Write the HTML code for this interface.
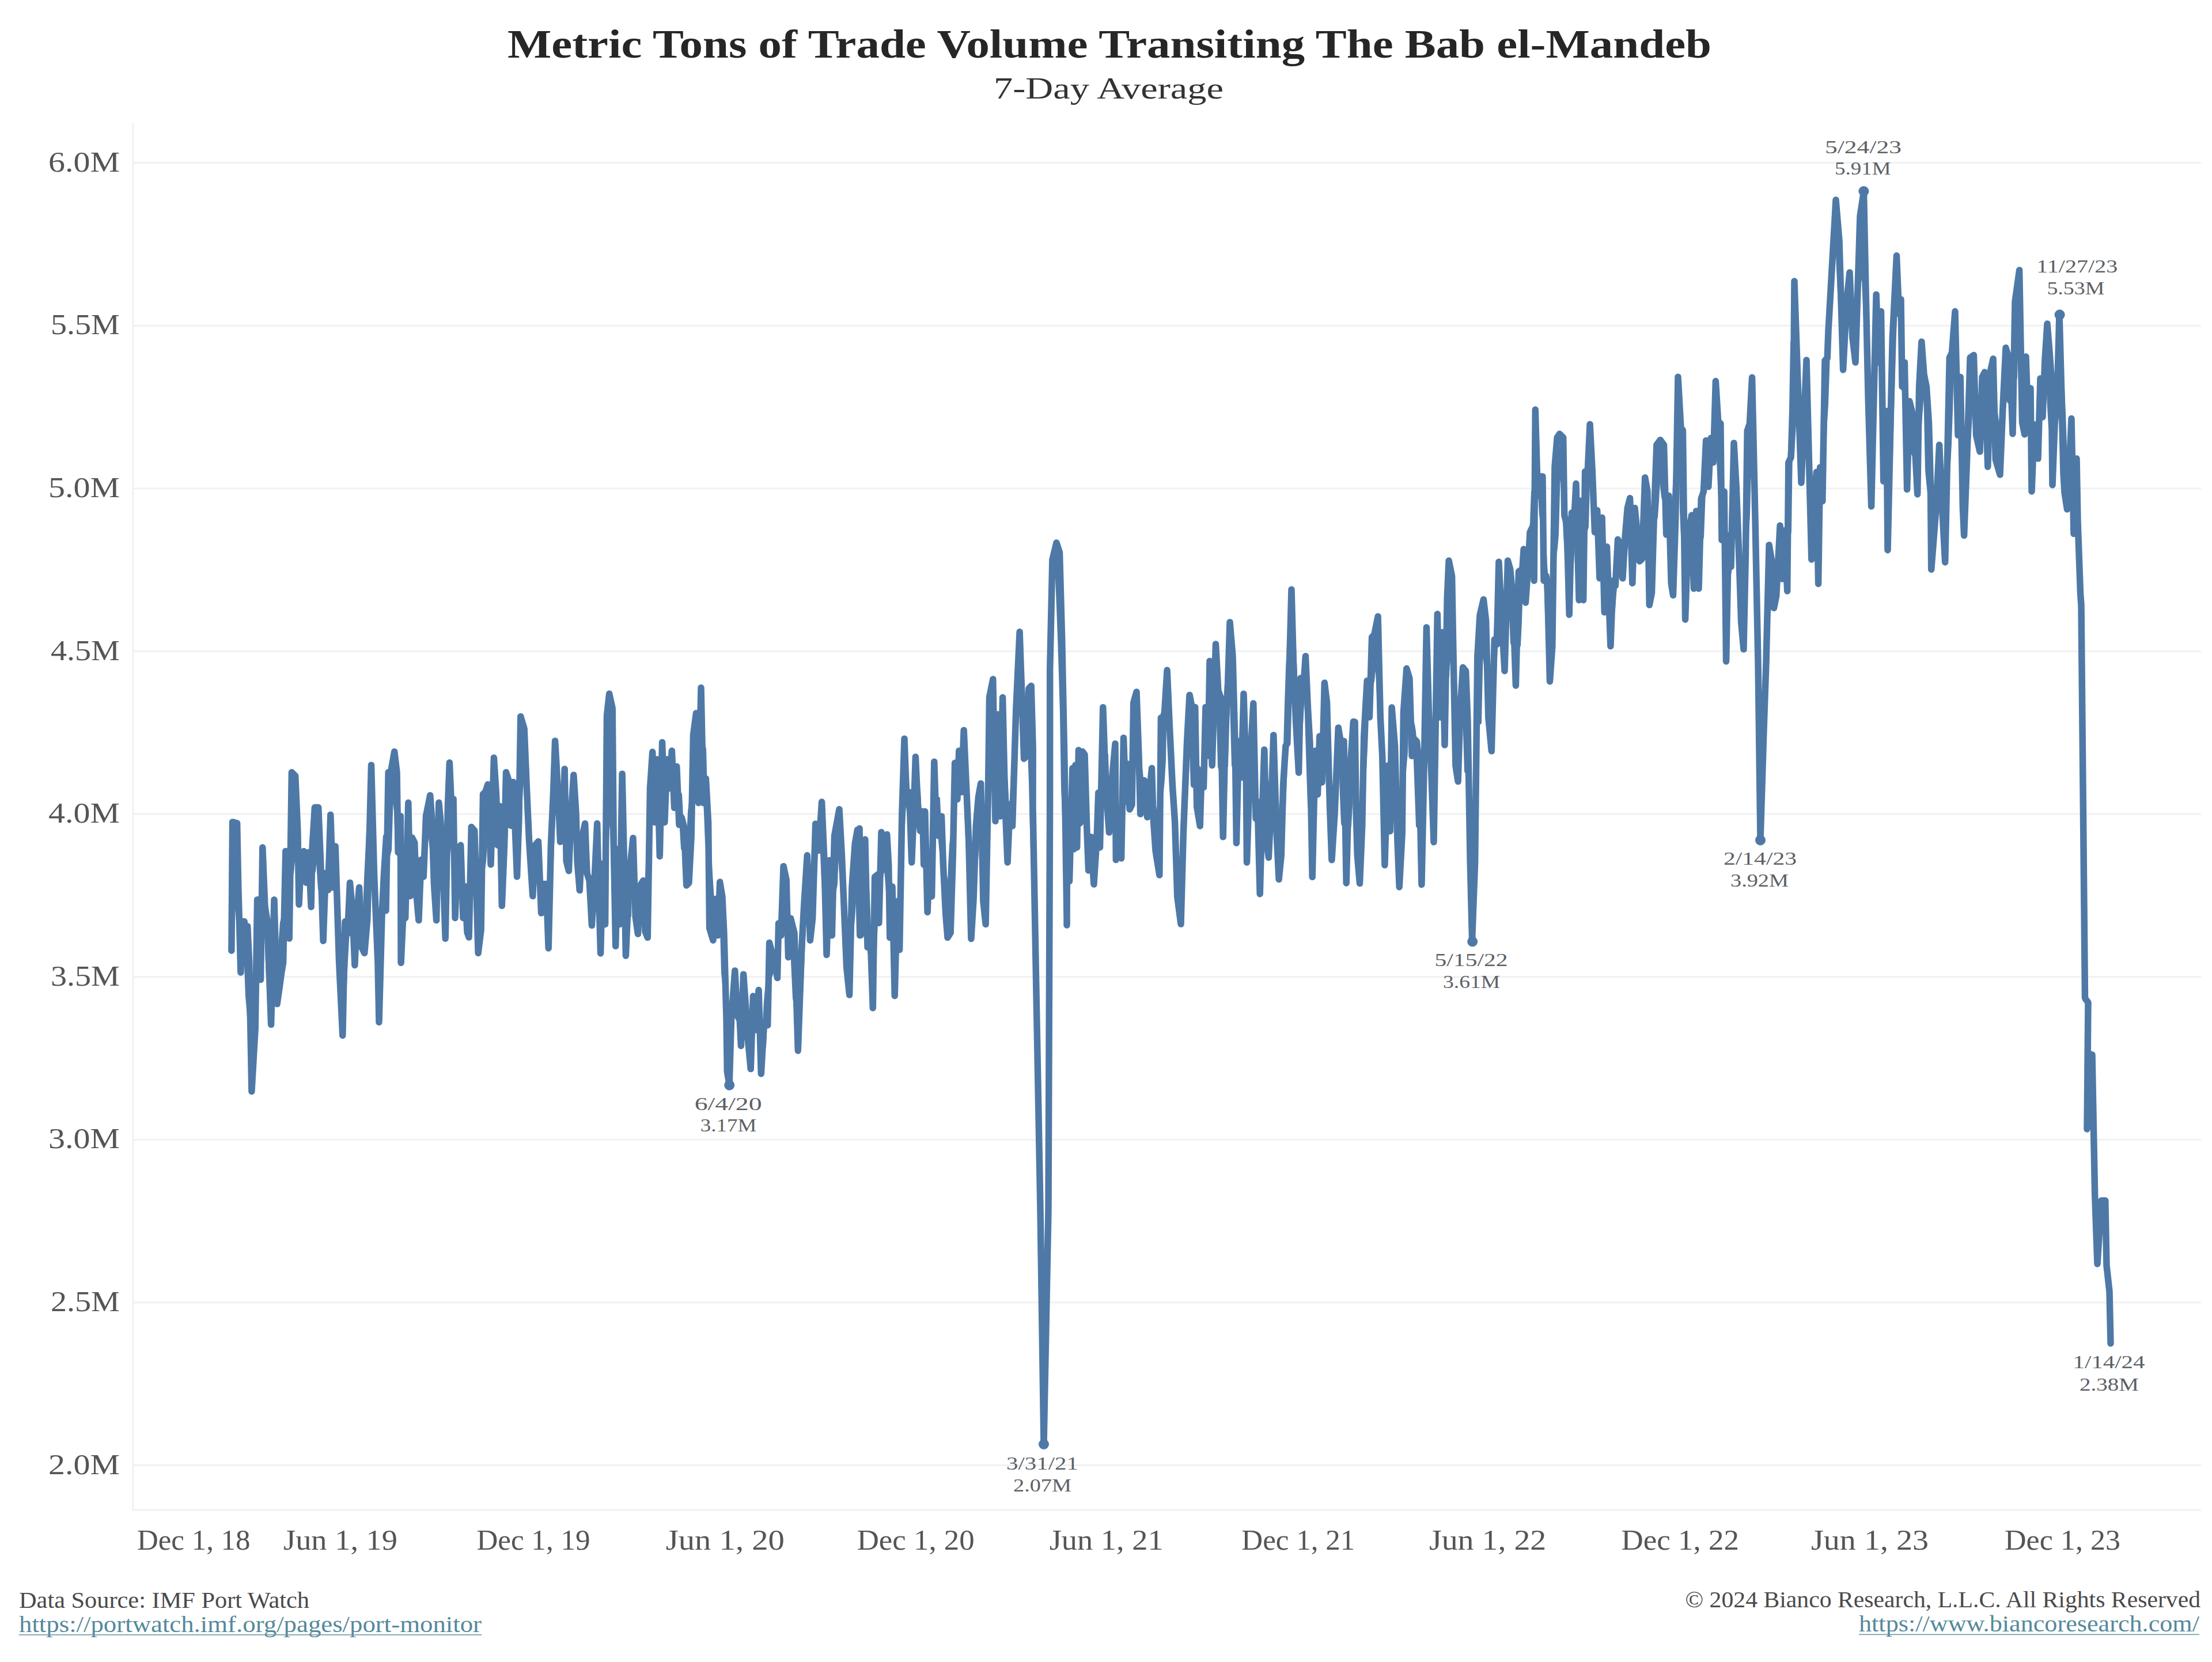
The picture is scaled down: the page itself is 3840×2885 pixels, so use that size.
<!DOCTYPE html>
<html><head><meta charset="utf-8"><title>Metric Tons of Trade Volume Transiting The Bab el-Mandeb</title>
<style>html,body{margin:0;padding:0;background:#fff;}body{width:3840px;height:2885px;overflow:hidden;}svg{display:block;}</style>
</head><body>
<svg width="3840" height="2885" viewBox="0 0 3840 2885" font-family="'Liberation Serif', 'DejaVu Serif', serif"><rect x="231" y="281.2" width="3590" height="3" fill="#f1f1f1"/>
<rect x="231" y="563.8" width="3590" height="3" fill="#f1f1f1"/>
<rect x="231" y="846.4" width="3590" height="3" fill="#f1f1f1"/>
<rect x="231" y="1129.0" width="3590" height="3" fill="#f1f1f1"/>
<rect x="231" y="1411.6" width="3590" height="3" fill="#f1f1f1"/>
<rect x="231" y="1694.2" width="3590" height="3" fill="#f1f1f1"/>
<rect x="231" y="1976.8" width="3590" height="3" fill="#f1f1f1"/>
<rect x="231" y="2259.4" width="3590" height="3" fill="#f1f1f1"/>
<rect x="231" y="2542.0" width="3590" height="3" fill="#f1f1f1"/>
<rect x="229.5" y="213" width="3" height="2410" fill="#f1f1f1"/>
<rect x="231" y="2619.5" width="3590" height="3" fill="#f1f1f1"/>
<text x="84" y="297.7" font-size="50" text-anchor="start" fill="#555" font-weight="normal" textLength="124" lengthAdjust="spacingAndGlyphs">6.0M</text>
<text x="88" y="580.3" font-size="50" text-anchor="start" fill="#555" font-weight="normal" textLength="120" lengthAdjust="spacingAndGlyphs">5.5M</text>
<text x="84" y="862.9" font-size="50" text-anchor="start" fill="#555" font-weight="normal" textLength="124" lengthAdjust="spacingAndGlyphs">5.0M</text>
<text x="88" y="1145.5" font-size="50" text-anchor="start" fill="#555" font-weight="normal" textLength="120" lengthAdjust="spacingAndGlyphs">4.5M</text>
<text x="84" y="1428.1" font-size="50" text-anchor="start" fill="#555" font-weight="normal" textLength="124" lengthAdjust="spacingAndGlyphs">4.0M</text>
<text x="88" y="1710.7" font-size="50" text-anchor="start" fill="#555" font-weight="normal" textLength="120" lengthAdjust="spacingAndGlyphs">3.5M</text>
<text x="84" y="1993.3" font-size="50" text-anchor="start" fill="#555" font-weight="normal" textLength="124" lengthAdjust="spacingAndGlyphs">3.0M</text>
<text x="88" y="2275.9" font-size="50" text-anchor="start" fill="#555" font-weight="normal" textLength="120" lengthAdjust="spacingAndGlyphs">2.5M</text>
<text x="84" y="2558.5" font-size="50" text-anchor="start" fill="#555" font-weight="normal" textLength="124" lengthAdjust="spacingAndGlyphs">2.0M</text>
<text x="238" y="2690" font-size="50" text-anchor="start" fill="#555" font-weight="normal" textLength="196.5" lengthAdjust="spacingAndGlyphs">Dec 1, 18</text>
<text x="492" y="2690" font-size="50" text-anchor="start" fill="#555" font-weight="normal" textLength="198" lengthAdjust="spacingAndGlyphs">Jun 1, 19</text>
<text x="827.5" y="2690" font-size="50" text-anchor="start" fill="#555" font-weight="normal" textLength="196.9" lengthAdjust="spacingAndGlyphs">Dec 1, 19</text>
<text x="1155.7" y="2690" font-size="50" text-anchor="start" fill="#555" font-weight="normal" textLength="206.2" lengthAdjust="spacingAndGlyphs">Jun 1, 20</text>
<text x="1487.7" y="2690" font-size="50" text-anchor="start" fill="#555" font-weight="normal" textLength="204.0" lengthAdjust="spacingAndGlyphs">Dec 1, 20</text>
<text x="1821.7" y="2690" font-size="50" text-anchor="start" fill="#555" font-weight="normal" textLength="198.0" lengthAdjust="spacingAndGlyphs">Jun 1, 21</text>
<text x="2155.3" y="2690" font-size="50" text-anchor="start" fill="#555" font-weight="normal" textLength="197.0" lengthAdjust="spacingAndGlyphs">Dec 1, 21</text>
<text x="2480.9" y="2690" font-size="50" text-anchor="start" fill="#555" font-weight="normal" textLength="203.4" lengthAdjust="spacingAndGlyphs">Jun 1, 22</text>
<text x="2814.5" y="2690" font-size="50" text-anchor="start" fill="#555" font-weight="normal" textLength="204.5" lengthAdjust="spacingAndGlyphs">Dec 1, 22</text>
<text x="3144" y="2690" font-size="50" text-anchor="start" fill="#555" font-weight="normal" textLength="204" lengthAdjust="spacingAndGlyphs">Jun 1, 23</text>
<text x="3480" y="2690" font-size="50" text-anchor="start" fill="#555" font-weight="normal" textLength="201" lengthAdjust="spacingAndGlyphs">Dec 1, 23</text>
<path d="M401.9,1650.2 L403.6,1426.9 L411.6,1429.0 L413.7,1536.4 L417.9,1688.1 L420.0,1599.6 L424.2,1599.6 L426.3,1629.1 L429.7,1608.0 L432.7,1671.2 L436.9,1894.5 L443.2,1785.0 L446.6,1561.7 L449.5,1561.7 L452.5,1700.7 L455.8,1471.1 L460.0,1574.3 L464.2,1599.6 L470.6,1778.6 L476.0,1561.7 L481.1,1742.8 L485.3,1713.4 L488.7,1688.1 L491.6,1671.2 L495.8,1477.5 L500.1,1479.6 L502.2,1629.1 L506.4,1340.6 L512.7,1346.9 L516.9,1443.8 L519.0,1570.1 L523.2,1481.7 L527.4,1477.5 L531.6,1532.2 L535.9,1479.6 L540.1,1574.3 L542.2,1469.0 L546.4,1401.6 L552.7,1401.6 L556.9,1502.7 L561.1,1633.3 L565.3,1515.4 L569.6,1544.9 L573.8,1414.3 L578.0,1540.6 L582.2,1469.0 L588.5,1667.0 L594.8,1797.6 L599.0,1599.6 L603.3,1620.7 L607.5,1532.2 L611.7,1578.6 L615.9,1675.4 L619.3,1595.4 L623.5,1540.6 L628.5,1646.0 L632.7,1654.4 L637.8,1595.4 L644.5,1327.9 L649.6,1519.6 L655.9,1671.2 L658.0,1774.4 L663.1,1587.0 L666.4,1519.6 L670.6,1452.2 L670.0,1580.7 L674.2,1340.6 L678.4,1340.6 L684.7,1304.8 L689.0,1340.6 L691.1,1479.6 L695.3,1416.4 L696.1,1671.3 L701.6,1551.2 L703.7,1593.4 L708.8,1393.3 L712.1,1555.4 L715.5,1454.3 L719.7,1462.8 L722.7,1551.2 L726.9,1597.6 L731.1,1492.3 L735.3,1521.7 L739.5,1416.4 L746.7,1380.6 L750.0,1424.9 L753.4,1534.4 L757.6,1597.6 L761.8,1393.3 L764.8,1424.9 L769.0,1509.1 L773.2,1629.2 L777.4,1399.6 L780.4,1323.8 L783.7,1399.6 L787.1,1387.0 L790.1,1593.4 L794.3,1475.4 L799.7,1467.0 L804.0,1593.4 L806.9,1538.6 L811.1,1618.6 L814.1,1627.1 L818.3,1435.4 L823.7,1441.7 L826.7,1534.4 L830.1,1654.4 L835.1,1614.4 L838.5,1378.5 L842.7,1374.3 L846.9,1361.7 L852.0,1500.7 L857.4,1315.3 L861.7,1382.7 L863.8,1467.0 L868.0,1399.6 L871.3,1572.3 L875.6,1467.0 L878.5,1340.6 L882.7,1353.3 L886.9,1433.3 L891.1,1357.5 L897.5,1521.7 L900.8,1424.9 L903.8,1243.7 L910.1,1264.8 L914.3,1365.9 L918.5,1458.6 L924.8,1555.4 L929.1,1467.0 L934.5,1460.7 L939.6,1584.9 L943.8,1534.4 L948.0,1534.4 L952.2,1646.0 L956.4,1467.0 L960.6,1374.3 L963.6,1285.9 L968.4,1368.5 L972.6,1461.2 L976.8,1452.7 L980.2,1334.8 L983.2,1494.9 L987.4,1511.7 L991.6,1410.6 L995.8,1345.3 L1000.0,1410.6 L1002.1,1494.9 L1006.3,1545.4 L1010.5,1452.7 L1015.6,1429.6 L1019.0,1515.9 L1023.2,1528.6 L1027.4,1606.5 L1031.6,1537.0 L1036.7,1429.6 L1039.2,1537.0 L1042.6,1654.9 L1046.4,1499.1 L1050.6,1604.4 L1053.5,1242.1 L1057.7,1204.2 L1063.2,1229.5 L1065.3,1465.4 L1068.7,1642.3 L1072.9,1473.8 L1075.8,1604.4 L1080.1,1343.2 L1083.0,1473.8 L1086.4,1659.1 L1090.6,1562.3 L1094.8,1494.9 L1099.0,1454.8 L1103.2,1591.7 L1107.4,1621.2 L1111.6,1537.0 L1116.7,1528.6 L1120.1,1617.0 L1124.3,1627.5 L1128.5,1368.5 L1132.7,1305.3 L1136.9,1427.5 L1141.1,1317.9 L1145.3,1486.4 L1149.6,1288.5 L1153.8,1427.5 L1158.0,1317.9 L1162.2,1368.5 L1166.4,1303.2 L1170.6,1402.2 L1174.8,1330.6 L1179.0,1431.7 L1183.3,1419.0 L1187.5,1435.9 L1191.7,1537.0 L1195.9,1532.8 L1200.1,1452.7 L1203.5,1275.8 L1208.5,1237.9 L1212.7,1393.8 L1217.0,1193.7 L1221.2,1393.8 L1225.4,1351.6 L1229.6,1427.5 L1231.6,1611.2 L1237.9,1632.2 L1242.1,1560.6 L1246.3,1623.8 L1249.7,1531.1 L1253.9,1556.4 L1256.9,1619.6 L1261.1,1771.2 L1262.3,1859.7 L1266.1,1882.9 L1269.5,1771.2 L1275.8,1684.9 L1280.0,1762.8 L1284.2,1771.2 L1286.4,1815.5 L1290.6,1691.2 L1294.8,1750.2 L1297.7,1796.5 L1303.2,1855.5 L1307.4,1729.1 L1311.6,1788.1 L1317.1,1718.6 L1321.3,1863.9 L1326.4,1775.4 L1332.7,1779.7 L1335.6,1636.4 L1341.1,1657.5 L1345.3,1674.3 L1349.5,1697.5 L1351.6,1602.7 L1355.9,1623.8 L1360.1,1503.7 L1365.1,1526.9 L1368.5,1661.7 L1372.7,1594.3 L1379.0,1619.6 L1385.3,1823.9 L1391.7,1644.9 L1395.9,1569.0 L1401.3,1484.8 L1406.4,1632.2 L1410.6,1594.3 L1415.7,1430.0 L1421.1,1476.4 L1426.6,1392.1 L1430.8,1489.0 L1435.0,1657.5 L1440.1,1493.2 L1444.3,1623.8 L1448.5,1451.1 L1457.0,1404.8 L1461.2,1480.6 L1469.6,1678.6 L1474.6,1727.0 L1478.9,1539.6 L1484.3,1463.7 L1488.5,1440.6 L1492.8,1623.8 L1492.1,1438.0 L1494.2,1623.4 L1501.8,1457.0 L1506.0,1644.4 L1511.1,1627.6 L1515.3,1749.8 L1518.6,1522.3 L1523.7,1518.1 L1525.8,1602.3 L1530.0,1444.4 L1534.2,1509.7 L1539.7,1448.6 L1542.7,1501.2 L1544.8,1627.6 L1549.0,1539.1 L1553.2,1728.7 L1557.4,1564.4 L1561.6,1648.7 L1565.8,1412.8 L1570.0,1282.2 L1574.2,1395.9 L1578.5,1374.9 L1582.7,1497.0 L1586.0,1417.0 L1589.4,1313.8 L1593.2,1395.9 L1597.4,1442.3 L1601.6,1408.6 L1603.7,1501.2 L1605.8,1408.6 L1610.1,1583.4 L1614.3,1480.2 L1617.6,1556.0 L1621.8,1322.2 L1624.8,1417.0 L1629.0,1450.7 L1634.5,1417.0 L1637.4,1501.2 L1641.6,1585.5 L1645.0,1627.6 L1650.1,1619.2 L1654.3,1484.4 L1657.6,1324.3 L1661.9,1387.5 L1664.8,1303.3 L1669.0,1374.9 L1673.2,1267.4 L1677.4,1362.2 L1681.7,1459.1 L1685.9,1629.7 L1690.1,1560.2 L1694.3,1433.8 L1698.5,1383.3 L1702.7,1360.1 L1706.9,1564.4 L1711.1,1604.4 L1715.4,1374.9 L1717.5,1210.6 L1723.8,1179.0 L1728.0,1425.4 L1732.2,1240.1 L1736.4,1417.0 L1740.6,1210.6 L1744.8,1395.9 L1749.1,1497.0 L1753.3,1395.9 L1757.5,1433.8 L1763.8,1231.6 L1770.1,1096.8 L1777.6,1317.0 L1781.8,1312.8 L1786.0,1194.9 L1790.2,1190.6 L1793.2,1300.2 L1793.0,1400.0 L1806.0,2100.0 L1812.0,2507.0 L1820.0,2100.0 L1822.6,1400.0 L1822.7,1161.2 L1826.9,971.6 L1834.0,942.1 L1839.5,959.0 L1843.7,1110.6 L1847.9,1321.2 L1852.1,1600.1 L1852.0,1606.0 L1852.5,1445.0 L1856.5,1529.7 L1861.8,1333.6 L1864.4,1474.0 L1867.0,1328.0 L1869.7,1471.0 L1872.4,1302.0 L1875.0,1429.0 L1879.0,1304.5 L1883.0,1310.0 L1887.0,1445.0 L1889.6,1511.0 L1893.6,1452.8 L1898.9,1535.0 L1904.0,1458.0 L1906.8,1376.0 L1909.5,1471.0 L1914.8,1227.7 L1918.7,1339.0 L1921.4,1386.6 L1925.4,1445.0 L1929.3,1365.0 L1936.0,1291.0 L1937.3,1492.6 L1941.0,1418.0 L1946.6,1490.0 L1950.5,1280.7 L1954.5,1392.0 L1957.0,1325.7 L1961.0,1405.0 L1965.0,1397.0 L1967.7,1219.7 L1973.0,1201.0 L1977.0,1312.0 L1979.7,1413.0 L1986.3,1354.8 L1991.6,1418.4 L1999.5,1333.6 L2002.0,1418.0 L2006.0,1476.7 L2012.8,1519.0 L2015.4,1246.0 L2017.7,1249.6 L2021.5,1237.0 L2026.1,1163.3 L2030.3,1258.0 L2035.4,1363.4 L2039.6,1426.5 L2043.8,1557.1 L2050.0,1604.0 L2054.3,1447.6 L2060.6,1287.5 L2064.9,1207.5 L2065.1,1206.4 L2068.4,1223.3 L2072.6,1362.3 L2074.7,1227.5 L2077.7,1400.2 L2083.2,1433.9 L2086.1,1337.0 L2089.5,1366.5 L2092.9,1227.5 L2097.1,1311.7 L2100.0,1147.4 L2104.2,1328.6 L2110.5,1117.9 L2114.8,1198.0 L2119.0,1210.6 L2123.2,1452.8 L2127.4,1261.2 L2131.6,1185.3 L2135.0,1080.0 L2140.0,1139.0 L2144.2,1294.9 L2146.4,1463.4 L2150.6,1286.4 L2154.8,1349.6 L2159.0,1204.3 L2163.2,1345.4 L2164.5,1497.1 L2169.5,1341.2 L2175.8,1221.1 L2180.1,1421.2 L2183.0,1391.7 L2187.2,1551.8 L2190.6,1429.7 L2194.8,1301.2 L2199.0,1463.4 L2202.4,1488.6 L2207.4,1379.1 L2210.8,1275.9 L2215.9,1442.3 L2220.1,1526.5 L2224.3,1484.4 L2227.6,1362.3 L2231.9,1294.9 L2234.8,1290.6 L2242.0,1023.2 L2245.3,1147.4 L2249.6,1252.7 L2254.6,1341.2 L2258.0,1176.9 L2262.2,1202.2 L2266.4,1139.0 L2270.6,1231.7 L2274.0,1290.6 L2278.2,1522.3 L2283.3,1303.3 L2287.5,1379.1 L2290.8,1278.0 L2295.0,1358.0 L2299.3,1185.3 L2303.5,1219.0 L2308.5,1400.2 L2311.9,1492.8 L2317.0,1412.8 L2323.3,1263.3 L2328.7,1294.9 L2333.0,1286.4 L2337.2,1532.9 L2340.1,1421.2 L2344.3,1328.6 L2349.4,1252.7 L2352.1,1253.3 L2354.2,1413.4 L2356.3,1485.0 L2360.5,1533.4 L2364.7,1434.4 L2367.7,1278.6 L2373.2,1181.7 L2377.4,1244.9 L2381.6,1105.9 L2385.8,1101.6 L2392.1,1070.1 L2396.3,1244.9 L2399.7,1312.3 L2403.9,1501.8 L2409.0,1329.1 L2413.2,1442.8 L2416.1,1228.0 L2421.6,1295.4 L2425.8,1455.5 L2429.2,1539.7 L2434.2,1447.1 L2436.4,1236.4 L2441.8,1160.6 L2446.9,1177.5 L2451.1,1312.3 L2455.3,1282.8 L2459.5,1287.0 L2463.7,1329.1 L2467.9,1535.5 L2472.2,1329.1 L2476.4,1089.0 L2480.6,1244.9 L2484.8,1341.7 L2489.0,1461.8 L2495.3,1065.8 L2499.5,1244.9 L2503.7,1097.4 L2508.0,1293.3 L2512.2,1038.5 L2515.1,973.2 L2520.6,1000.5 L2522.7,1118.5 L2526.9,1329.1 L2531.1,1356.5 L2535.3,1223.8 L2539.6,1158.5 L2544.6,1164.8 L2548.0,1253.3 L2552.2,1497.6 L2555.6,1630.3 L2560.6,1497.6 L2564.8,1139.6 L2569.0,1067.9 L2575.4,1040.6 L2579.6,1076.4 L2583.8,1244.9 L2589.3,1303.8 L2594.3,1110.1 L2598.5,1118.5 L2601.9,975.3 L2607.0,1076.4 L2612.0,1164.8 L2617.5,973.2 L2621.7,987.9 L2625.9,1034.2 L2631.4,1190.1 L2636.4,992.1 L2642.8,987.9 L2645.1,953.3 L2648.4,1046.0 L2652.6,987.0 L2656.0,923.8 L2660.2,915.4 L2663.2,1008.0 L2665.3,711.1 L2669.5,860.6 L2673.7,826.9 L2677.9,826.9 L2680.0,1008.0 L2684.2,999.6 L2686.3,1016.5 L2690.5,1182.9 L2694.8,1121.8 L2699.0,810.1 L2703.2,759.5 L2707.4,753.2 L2713.7,759.5 L2715.8,894.3 L2720.0,911.2 L2724.2,1067.0 L2728.5,890.1 L2732.7,902.7 L2736.0,839.6 L2741.1,1041.7 L2745.3,869.0 L2748.7,1041.7 L2751.6,818.5 L2755.8,826.9 L2760.1,736.4 L2764.3,818.5 L2768.5,923.8 L2772.7,885.9 L2776.9,1003.8 L2781.1,898.5 L2785.3,1062.8 L2789.5,949.1 L2795.9,1121.8 L2800.1,1008.0 L2804.3,1016.5 L2808.5,936.4 L2812.7,944.9 L2816.9,1003.8 L2821.1,932.2 L2825.3,881.7 L2829.6,864.8 L2833.8,1012.3 L2838.0,881.7 L2842.2,923.8 L2846.4,974.3 L2850.6,970.1 L2855.7,829.0 L2859.9,852.2 L2863.3,1050.2 L2867.5,1029.1 L2871.7,885.9 L2875.9,772.2 L2882.2,763.7 L2888.5,772.2 L2892.7,928.0 L2897.0,860.6 L2901.2,1012.3 L2904.5,1033.3 L2908.7,902.7 L2913.0,654.2 L2918.0,742.7 L2921.4,746.9 L2925.6,1075.4 L2930.6,923.8 L2937.0,894.3 L2936.3,895.4 L2940.5,1021.8 L2944.7,887.0 L2949.0,1021.8 L2953.2,865.9 L2957.4,853.3 L2961.6,764.8 L2965.8,844.9 L2970.0,760.6 L2974.2,802.7 L2978.4,661.6 L2982.7,731.1 L2986.9,735.3 L2989.0,937.5 L2993.2,853.3 L2996.6,1148.1 L3000.8,929.1 L3005.0,983.9 L3010.0,769.0 L3014.2,844.9 L3018.5,954.4 L3022.7,1080.7 L3026.9,1127.1 L3030.3,971.2 L3033.2,748.0 L3037.4,735.3 L3041.6,655.3 L3047.0,900.0 L3052.0,1150.0 L3056.0,1458.0 L3062.0,1266.0 L3066.0,1150.0 L3071.1,946.0 L3075.3,971.2 L3079.5,1055.5 L3083.7,1034.4 L3090.1,912.3 L3094.3,1004.9 L3098.5,920.7 L3102.7,1026.0 L3104.8,802.7 L3109.0,794.3 L3113.2,718.5 L3115.0,488.0 L3127.0,838.0 L3136.0,625.0 L3144.8,971.2 L3149.0,887.0 L3153.3,819.6 L3156.6,1013.4 L3159.6,811.2 L3163.8,870.1 L3168.0,625.8 L3172.2,621.6 L3174.0,574.0 L3187.0,347.0 L3193.0,418.0 L3199.6,642.0 L3206.0,520.0 L3211.0,473.0 L3216.0,587.0 L3221.0,629.0 L3229.0,375.0 L3235.5,333.0 L3239.0,502.7 L3243.2,692.3 L3248.6,879.0 L3252.9,692.3 L3257.1,511.2 L3261.3,629.1 L3265.5,540.6 L3269.7,835.5 L3274.8,713.4 L3277.0,955.0 L3285.3,587.0 L3292.5,443.8 L3296.7,544.9 L3300.0,519.6 L3302.1,671.2 L3306.4,629.1 L3310.6,849.5 L3314.8,696.5 L3319.0,713.4 L3323.2,755.5 L3328.7,858.0 L3331.6,671.2 L3335.8,593.3 L3340.1,650.2 L3344.3,671.2 L3348.5,734.4 L3351.4,839.7 L3352.7,988.5 L3361.1,881.8 L3366.6,772.3 L3371.6,881.8 L3376.7,976.0 L3384.3,620.7 L3388.5,612.3 L3394.0,540.6 L3399.0,755.5 L3403.2,654.4 L3407.4,881.8 L3409.6,929.6 L3414.6,797.6 L3420.1,620.7 L3426.4,616.5 L3430.6,755.5 L3437.0,784.0 L3441.1,654.4 L3445.4,646.0 L3450.8,810.2 L3455.9,641.7 L3460.1,622.8 L3464.3,797.6 L3472.0,824.0 L3477.0,704.9 L3482.0,603.8 L3489.6,629.1 L3494.0,753.0 L3498.0,523.8 L3505.6,469.0 L3510.5,733.0 L3514.7,754.0 L3517.0,619.0 L3521.0,737.0 L3525.0,674.0 L3527.0,853.0 L3531.6,737.0 L3538.0,796.0 L3542.0,657.0 L3546.0,724.0 L3550.0,623.0 L3554.0,562.0 L3558.0,611.0 L3561.0,653.0 L3563.0,842.0 L3567.0,737.0 L3571.0,695.0 L3575.0,545.0 L3578.0,653.0 L3582.0,821.0 L3584.0,855.0 L3588.5,884.0 L3592.0,821.0 L3596.0,726.5 L3600.0,926.5 L3605.0,796.0 L3607.0,905.0 L3611.6,1032.0 L3613.0,1050.0 L3619.5,1732.0 L3621.0,1735.0 L3625.0,1740.0 L3623.0,1960.0 L3629.0,1830.0 L3632.0,1831.0 L3636.7,2075.0 L3641.0,2194.0 L3648.0,2084.0 L3654.8,2084.0 L3657.0,2197.0 L3662.0,2242.0 L3664.0,2332.0" fill="none" stroke="#4e79a7" stroke-width="11.5" stroke-linejoin="round" stroke-linecap="round"/>
<path d="M408,1520.8 L410,1501.7 L412,1577.9 L414,1599.6 L416,1599.6 L418,1601.7 L420,1617.5 L422,1629.1 L424,1628.8 L426,1625.3 L428,1676.3 L430,1728.6 L432,1751.7 L434,1778.8 L436,1795.1 L438,1772.3 L440,1759.7 L442,1776.9 L444,1689.4 L446,1674.3 L448,1645.3 L450,1626.1 L452,1597.0 L454,1581.9 L456,1582.8 L458,1582.8 L460,1570.3 L462,1574.3 L464,1648.9 L466,1697.2 L468,1685.2 L470,1669.1 L472,1662.0 L474,1682.5 L476,1676.2 L478,1663.2 L480,1647.2 L482,1658.3 L484,1688.5 L486,1690.2 L488,1629.9 L490,1601.6 L492,1594.5 L494,1552.1 L496,1578.5 L498,1553.0 L500,1526.0 L502,1510.9 L504,1517.4 L506,1515.4 L508,1494.9 L510,1425.2 L512,1420.7 L514,1475.9 L516,1491.9 L518,1491.7 L520,1493.7 L522,1499.8 L524,1511.8 L526,1517.9 L528,1505.9 L530,1499.8 L532,1507.9 L534,1520.1 L536,1515.9 L538,1511.9 L540,1503.8 L542,1503.8 L544,1512.7 L546,1493.3 L548,1445.3 L550,1440.1 L552,1471.4 L554,1513.8 L556,1542.9 L558,1548.2 L560,1545.1 L562,1553.4 L564,1553.4 L566,1542.9 L568,1522.2 L570,1494.6 L572,1492.5 L574,1493.1 L576,1486.5 L578,1488.5 L580,1505.0 L582,1524.8 L584,1544.0 L586,1588.0 L588,1628.0 L590,1695.6 L592,1688.4 L594,1701.4 L596,1713.4 L598,1709.6 L600,1667.6 L602,1631.6 L604,1604.6 L606,1578.6 L608,1587.6 L610,1596.7 L612,1608.8 L614,1611.4 L616,1612.1 L618,1608.1 L620,1609.5 L622,1606.4 L624,1595.4 L626,1585.2 L628,1594.3 L630,1611.6 L632,1607.5 L634,1580.3 L636,1525.0 L638,1483.8 L640,1442.6 L642,1444.9 L644,1453.0 L646,1451.0 L648,1442.9 L650,1495.4 L652,1578.2 L654,1653.0 L656,1659.1 L658,1663.1 L660,1665.4 L662,1669.4 L664,1568.7 L666,1535.3 L668,1511.4 L670,1498.7 L672,1491.0 L674,1482.8 L676,1475.5 L678,1410.6 L680,1345.6 L682,1324.7 L684,1370.8 L686,1390.0 L688,1410.1 L690,1463.3 L692,1472.6 L694,1488.7 L696,1519.8 L698,1565.3 L700,1559.3 L702,1553.2 L704,1510.3 L706,1515.4 L708,1502.9 L710,1492.8 L712,1481.3 L714,1474.6 L716,1496.8 L718,1517.0 L720,1509.0 L722,1544.9 L724,1536.8 L726,1534.0 L728,1540.9 L730,1530.7 L732,1512.9 L734,1505.2 L736,1494.9 L738,1470.1 L740,1455.9 L742,1435.7 L744,1423.7 L746,1427.7 L748,1454.3 L750,1474.6 L752,1518.2 L754,1503.7 L756,1497.4 L758,1501.9 L760,1495.4 L762,1483.4 L764,1490.2 L766,1485.4 L768,1535.8 L770,1521.8 L772,1512.4 L774,1509.7 L776,1508.3 L778,1469.1 L780,1436.8 L782,1419.4 L784,1417.4 L786,1471.1 L788,1494.3 L790,1503.4 L792,1508.3 L794,1501.3 L796,1533.4 L798,1527.4 L800,1535.2 L802,1549.9 L804,1556.8 L806,1558.9 L808,1573.1 L810,1571.9 L812,1556.6 L814,1556.5 L816,1552.4 L818,1513.1 L820,1511.1 L822,1517.2 L824,1519.3 L826,1556.4 L828,1565.4 L830,1558.2 L832,1542.1 L834,1558.0 L836,1533.8 L838,1507.6 L840,1495.5 L842,1460.2 L844,1420.1 L846,1441.3 L848,1437.2 L850,1420.1 L852,1412.0 L854,1406.0 L856,1412.4 L858,1411.4 L860,1404.0 L862,1403.2 L864,1431.7 L866,1448.2 L868,1461.4 L870,1465.0 L872,1459.0 L874,1465.4 L876,1479.9 L878,1436.9 L880,1411.3 L882,1403.9 L884,1385.7 L886,1388.2 L888,1398.0 L890,1408.1 L892,1423.6 L894,1435.3 L896,1413.6 L898,1409.6 L900,1420.8 L902,1405.7 L904,1368.5 L906,1325.5 L908,1320.8 L910,1311.3 L912,1356.8 L914,1376.0 L916,1394.1 L918,1422.3 L920,1467.6 L922,1490.0 L924,1500.0 L926,1509.2 L928,1513.2 L930,1506.8 L932,1510.8 L934,1508.0 L936,1538.8 L938,1539.6 L940,1539.6 L942,1544.5 L944,1561.8 L946,1580.9 L948,1579.3 L950,1566.9 L952,1558.7 L954,1547.0 L956,1517.3 L958,1470.0 L960,1420.6 L962,1370.4 L964,1362.4 L966,1361.3 L968,1350.3 L970,1371.5 L972,1401.9 L974,1389.2 L976,1410.0 L978,1416.8 L980,1410.0 L982,1418.8 L984,1427.6 L986,1426.8 L988,1439.9 L990,1431.8 L992,1408.6 L994,1413.6 L996,1417.7 L998,1412.6 L1000,1431.7 L1002,1468.8 L1004,1476.9 L1006,1481.9 L1008,1493.0 L1010,1490.0 L1012,1484.4 L1014,1477.8 L1016,1468.3 L1018,1484.8 L1020,1508.9 L1022,1529.6 L1024,1556.0 L1026,1559.5 L1028,1549.9 L1030,1538.8 L1032,1509.6 L1034,1518.7 L1036,1527.9 L1038,1540.0 L1040,1536.2 L1042,1544.4 L1044,1563.9 L1046,1543.6 L1048,1523.4 L1050,1509.2 L1052,1481.3 L1054,1441.3 L1056,1412.2 L1058,1348.2 L1060,1329.3 L1062,1418.0 L1064,1467.4 L1066,1491.5 L1068,1503.7 L1070,1522.8 L1072,1534.9 L1074,1532.0 L1076,1499.9 L1078,1496.9 L1080,1508.0 L1082,1512.0 L1084,1495.9 L1086,1529.9 L1088,1549.2 L1090,1566.5 L1092,1589.6 L1094,1518.3 L1096,1523.4 L1098,1517.3 L1100,1513.2 L1102,1533.4 L1104,1557.0 L1106,1557.3 L1108,1573.4 L1110,1587.1 L1112,1571.1 L1114,1575.1 L1116,1567.9 L1118,1586.1 L1120,1559.3 L1122,1535.2 L1124,1525.1 L1126,1481.0 L1128,1436.8 L1130,1418.1 L1132,1403.4 L1134,1374.6 L1136,1356.9 L1138,1374.1 L1140,1395.0 L1142,1394.2 L1144,1378.8 L1146,1370.4 L1148,1387.2 L1150,1392.7 L1152,1372.7 L1154,1354.5 L1156,1355.6 L1158,1360.8 L1160,1352.4 L1162,1342.2 L1164,1341.8 L1166,1352.3 L1168,1353.4 L1170,1351.0 L1172,1363.1 L1174,1369.7 L1176,1379.1 L1178,1377.1 L1180,1379.1 L1182,1416.5 L1184,1438.9 L1186,1472.3 L1188,1476.3 L1190,1490.5 L1192,1493.6 L1194,1478.5 L1196,1450.7 L1198,1409.5 L1200,1392.4 L1202,1377.3 L1204,1329.5 L1206,1339.1 L1208,1325.9 L1210,1292.2 L1212,1279.7 L1214,1297.7 L1216,1307.2 L1218,1319.7 L1220,1307.7 L1222,1299.7 L1224,1373.8 L1226,1411.1 L1228,1462.8 L1230,1478.9 L1232,1500.1 L1234,1532.4 L1236,1562.7 L1238,1591.2 L1240,1603.4 L1242,1593.4 L1244,1587.5 L1246,1582.3 L1248,1574.1 L1250,1585.0 L1252,1600.4 L1254,1613.5 L1256,1688.3 L1258,1707.5 L1260,1731.8 L1262,1778.3 L1264,1785.3 L1266,1795.6 L1268,1807.4 L1270,1782.4 L1272,1757.2 L1274,1746.8 L1276,1731.1 L1278,1726.8 L1280,1739.8 L1282,1760.8 L1284,1755.3 L1286,1758.1 L1288,1750.7 L1290,1757.8 L1292,1759.3 L1294,1752.8 L1296,1748.1 L1298,1802.6 L1300,1794.5 L1302,1792.9 L1304,1793.9 L1306,1784.0 L1308,1776.6 L1310,1769.2 L1312,1757.3 L1314,1763.6 L1316,1775.9 L1318,1787.2 L1320,1792.4 L1322,1797.6 L1324,1803.6 L1326,1816.6 L1328,1775.5 L1330,1738.3 L1332,1716.1 L1334,1701.0 L1336,1695.9 L1338,1690.9 L1340,1680.7 L1342,1658.6 L1344,1667.3 L1346,1659.6 L1348,1659.4 L1350,1639.0 L1352,1617.8 L1354,1610.3 L1356,1607.0 L1358,1577.8 L1360,1561.8 L1362,1576.5 L1364,1575.2 L1366,1597.3 L1368,1604.5 L1370,1606.6 L1372,1609.4 L1374,1633.1 L1376,1647.6 L1378,1689.7 L1380,1732.8 L1382,1742.6 L1384,1730.6 L1386,1721.7 L1388,1729.3 L1390,1726.3 L1392,1679.1 L1394,1633.6 L1396,1578.3 L1398,1555.5 L1400,1557.0 L1402,1552.2 L1404,1551.2 L1406,1557.5 L1408,1548.8 L1410,1553.9 L1412,1538.2 L1414,1506.2 L1416,1482.1 L1418,1468.3 L1420,1452.2 L1422,1436.5 L1424,1446.2 L1426,1462.3 L1428,1481.9 L1430,1529.1 L1432,1553.2 L1434,1545.3 L1436,1555.3 L1438,1575.3 L1440,1579.6 L1442,1557.3 L1444,1544.4 L1446,1533.4 L1448,1545.5 L1450,1534.4 L1452,1481.2 L1454,1450.5 L1456,1445.4 L1458,1472.4 L1460,1501.6 L1462,1530.6 L1464,1549.6 L1466,1577.6 L1468,1609.6 L1470,1649.5 L1472,1640.4 L1474,1645.5 L1476,1635.3 L1478,1611.1 L1480,1596.0 L1482,1566.8 L1484,1513.1 L1486,1507.3 L1488,1522.8 L1490,1534.9 L1492,1539.0 L1494,1534.9 L1496,1529.2 L1498,1541.7 L1500,1554.3 L1502,1543.4 L1504,1533.6 L1506,1556.8 L1508,1608.2 L1510,1653.1 L1512,1647.1 L1514,1658.4 L1516,1659.4 L1518,1647.6 L1520,1602.3 L1522,1580.3 L1524,1550.3 L1526,1529.2 L1528,1522.3 L1530,1518.1 L1532,1499.9 L1534,1481.8 L1536,1476.6 L1538,1501.5 L1540,1522.3 L1542,1547.4 L1544,1563.4 L1546,1582.4 L1548,1601.5 L1550,1611.6 L1552,1615.5 L1554,1620.2 L1556,1624.5 L1558,1618.5 L1560,1590.3 L1562,1566.4 L1564,1502.5 L1566,1452.1 L1568,1413.8 L1570,1385.0 L1572,1363.4 L1574,1357.3 L1576,1383.1 L1578,1409.9 L1580,1426.0 L1582,1420.0 L1584,1410.9 L1586,1404.9 L1588,1397.3 L1590,1388.7 L1592,1381.2 L1594,1371.2 L1596,1412.0 L1598,1434.5 L1600,1436.8 L1602,1450.9 L1604,1466.8 L1606,1477.1 L1608,1484.9 L1610,1495.8 L1612,1511.0 L1614,1508.1 L1616,1497.1 L1618,1468.3 L1620,1436.1 L1622,1427.0 L1624,1419.0 L1626,1399.8 L1628,1386.7 L1630,1430.9 L1632,1447.8 L1634,1470.1 L1636,1492.2 L1638,1511.3 L1640,1519.3 L1642,1533.3 L1644,1576.4 L1646,1578.2 L1648,1565.9 L1650,1503.5 L1652,1466.4 L1654,1449.4 L1656,1424.4 L1658,1385.5 L1660,1369.3 L1662,1356.7 L1664,1346.3 L1666,1343.4 L1668,1330.8 L1670,1324.8 L1672,1331.9 L1674,1344.5 L1676,1356.4 L1678,1402.6 L1680,1456.1 L1682,1494.2 L1684,1536.1 L1686,1532.1 L1688,1531.7 L1690,1543.4 L1692,1522.1 L1694,1490.0 L1696,1462.9 L1698,1431.8 L1700,1440.0 L1702,1440.2 L1704,1462.3 L1706,1513.1 L1708,1488.3 L1710,1457.4 L1712,1470.5 L1714,1418.2 L1716,1403.1 L1718,1355.8 L1720,1306.7 L1722,1305.0 L1724,1313.2 L1726,1302.9 L1728,1308.6 L1730,1325.2 L1732,1338.6 L1734,1332.5 L1736,1304.4 L1738,1306.8 L1740,1329.1 L1742,1348.2 L1744,1338.2 L1746,1360.7 L1748,1404.0 L1750,1421.9 L1752,1429.8 L1754,1421.0 L1756,1401.9 L1758,1365.8 L1760,1321.7 L1762,1288.7 L1764,1255.7 L1766,1198.4 L1768,1188.9 L1770,1187.4 L1772,1179.3 L1774,1174.9 L1776,1213.9 L1778,1244.9 L1780,1252.8 L1782,1266.8 L1784,1247.8 L1786,1248.1 L1788,1300.5 L1790,1359.3 L1792,1442.0 L1794,1511.0 M1832,990.8 L1834,967.1 L1836,1003.5 L1838,1053.0 L1840,1106.6 L1842,1169.8 L1844,1239.0 L1846,1367.4 L1848,1415.5 L1850,1455.4 L1852,1471.4 L1854,1474.4 L1856,1477.5 L1858,1469.2 L1860,1423.9 L1862,1408.0 L1864,1411.6 L1866,1392.2 L1868,1388.5 L1870,1397.4 L1872,1380.5 L1874,1378.7 L1876,1378.5 L1878,1354.4 L1880,1374.5 L1882,1383.7 L1884,1386.6 L1886,1431.9 L1888,1449.0 L1890,1456.9 L1892,1473.0 L1894,1489.0 L1896,1495.7 L1898,1482.6 L1900,1470.5 L1902,1450.4 L1904,1442.8 L1906,1422.7 L1908,1403.3 L1910,1388.3 L1912,1365.4 L1914,1348.3 L1916,1338.3 L1918,1324.2 L1920,1310.7 L1922,1374.2 L1924,1382.5 L1926,1389.8 L1928,1392.8 L1930,1377.0 L1932,1389.8 L1934,1390.4 L1936,1400.9 L1938,1421.0 L1940,1432.1 L1942,1430.1 L1944,1437.7 L1946,1407.5 L1948,1381.6 L1950,1367.8 L1952,1359.4 L1954,1359.2 L1956,1345.9 L1958,1357.6 L1960,1357.7 L1962,1342.3 L1964,1335.9 L1966,1322.5 L1968,1276.1 L1970,1279.7 L1972,1297.1 L1974,1280.7 L1976,1315.0 L1978,1327.2 L1980,1340.3 L1982,1362.9 L1984,1376.6 L1986,1392.9 L1988,1388.1 L1990,1381.8 L1992,1379.7 L1994,1375.6 L1996,1387.6 L1998,1388.1 L2000,1388.1 L2002,1390.9 L2004,1406.9 L2006,1434.2 L2008,1427.4 L2010,1423.7 L2012,1406.6 L2014,1392.5 L2016,1374.5 L2018,1352.4 L2020,1318.3 L2022,1212.4 L2024,1212.0 L2026,1221.2 L2028,1230.3 L2030,1250.0 L2032,1281.3 L2034,1325.9 L2036,1380.7 L2038,1419.4 L2040,1447.6 L2042,1476.8 L2044,1513.9 L2046,1529.8 L2048,1527.0 L2050,1527.8 L2052,1484.7 L2054,1453.6 L2056,1426.6 L2058,1386.6 L2060,1345.6 L2062,1300.5 L2064,1275.6 L2066,1281.6 L2068,1271.6 L2070,1284.7 L2072,1299.8 L2074,1302.8 L2076,1309.8 L2078,1330.0 L2080,1333.0 L2082,1358.0 L2084,1368.7 L2086,1348.3 L2088,1339.1 L2090,1318.1 L2092,1285.7 L2094,1261.6 L2096,1252.1 L2098,1253.7 L2100,1255.5 L2102,1245.8 L2104,1228.9 L2106,1204.2 L2108,1221.1 L2110,1206.2 L2112,1188.0 L2114,1200.1 L2116,1254.7 L2118,1330.7 L2120,1337.3 L2122,1334.3 L2124,1327.2 L2126,1315.2 L2128,1328.7 L2130,1261.2 L2132,1201.7 L2134,1153.1 L2136,1160.1 L2138,1178.4 L2140,1255.4 L2142,1329.0 L2144,1327.8 L2146,1326.8 L2148,1338.8 L2150,1340.1 L2152,1341.5 L2154,1307.2 L2156,1296.6 L2158,1319.2 L2160,1333.5 L2162,1351.5 L2164,1360.5 L2166,1367.6 L2168,1375.6 L2170,1373.7 L2172,1323.2 L2174,1323.2 L2176,1312.2 L2178,1328.2 L2180,1384.2 L2182,1408.2 L2184,1434.7 L2186,1443.7 L2188,1442.7 L2190,1427.8 L2192,1425.5 L2194,1410.4 L2196,1397.4 L2198,1391.3 L2200,1402.4 L2202,1403.4 L2204,1407.5 L2206,1357.9 L2208,1365.5 L2210,1373.0 L2212,1372.1 L2214,1369.0 L2216,1388.2 L2218,1439.3 L2220,1446.4 L2222,1452.3 L2224,1448.4 L2226,1421.3 L2228,1401.3 L2230,1354.1 L2232,1295.9 L2234,1222.3 L2236,1162.9 L2238,1121.7 L2240,1131.8 L2242,1141.8 L2244,1133.4 L2246,1123.6 L2248,1172.7 L2250,1241.8 L2252,1247.0 L2254,1257.9 L2256,1265.9 L2258,1258.1 L2260,1223.0 L2262,1194.5 L2264,1187.4 L2266,1189.6 L2268,1207.5 L2270,1272.3 L2272,1338.0 L2274,1398.4 L2276,1389.4 L2278,1389.4 L2280,1389.4 L2282,1393.6 L2284,1371.3 L2286,1348.4 L2288,1334.6 L2290,1325.2 L2292,1315.1 L2294,1305.8 L2296,1293.9 L2298,1270.5 L2300,1278.6 L2302,1285.8 L2304,1280.4 L2306,1342.8 L2308,1371.0 L2310,1395.1 L2312,1406.2 L2314,1412.3 L2316,1417.6 L2318,1385.5 L2320,1359.3 L2322,1337.0 L2324,1318.8 L2326,1293.6 L2328,1308.1 L2330,1381.6 L2332,1429.7 L2334,1433.4 L2336,1425.3 L2338,1416.9 L2340,1410.9 L2342,1432.7 L2344,1397.1 L2346,1323.4 L2348,1337.0 L2350,1338.6 L2352,1350.3 L2354,1379.3 L2356,1417.4 L2358,1434.4 L2360,1425.6 L2362,1440.5 L2364,1398.0 L2366,1367.6 L2368,1338.3 L2370,1299.8 L2372,1244.6 L2374,1216.0 L2376,1202.1 L2378,1195.9 L2380,1190.5 L2382,1182.4 L2384,1162.3 L2386,1111.9 L2388,1113.9 L2390,1146.4 L2392,1167.5 L2394,1206.7 L2396,1257.1 L2398,1302.0 L2400,1357.6 L2402,1380.8 L2404,1384.9 L2406,1399.8 L2408,1403.4 L2410,1383.9 L2412,1366.9 L2414,1351.3 L2416,1336.8 L2418,1345.9 L2420,1347.4 L2422,1340.4 L2424,1406.5 L2426,1436.5 L2428,1435.0 L2430,1413.5 L2432,1425.5 L2434,1382.9 L2436,1350.8 L2438,1327.7 L2440,1305.6 L2442,1234.4 L2444,1214.5 L2446,1223.7 L2448,1243.9 L2450,1252.9 L2452,1257.9 L2454,1270.0 L2456,1293.0 L2458,1322.1 L2460,1378.2 L2462,1433.3 L2464,1435.3 L2466,1409.3 L2468,1385.2 L2470,1365.2 L2472,1335.1 L2474,1254.1 L2476,1240.9 L2478,1227.9 L2480,1215.8 L2482,1235.8 L2484,1343.8 L2486,1330.7 L2488,1315.8 L2490,1304.6 L2492,1243.8 L2494,1222.6 L2496,1201.2 L2498,1166.3 L2500,1159.8 L2502,1180.5 L2504,1190.3 L2506,1178.2 L2508,1158.4 L2510,1156.0 L2512,1174.2 L2514,1131.8 L2516,1078.2 L2518,1073.2 L2520,1129.5 L2522,1157.6 L2524,1169.6 L2526,1204.7 L2528,1242.9 L2530,1260.9 L2532,1278.5 L2534,1269.0 L2536,1262.0 L2538,1248.9 L2540,1210.3 L2542,1215.6 L2544,1273.3 L2546,1338.4 M2568,1253.6 L2570,1160.6 L2572,1072.0 L2574,1078.4 L2576,1112.5 L2578,1139.6 L2580,1154.6 L2582,1169.6 L2584,1212.8 L2586,1209.0 L2588,1212.8 L2590,1231.2 L2592,1216.0 L2594,1161.5 L2596,1122.2 L2598,1083.2 L2600,1051.0 L2602,1047.0 L2604,1055.0 L2606,1062.2 L2608,1082.3 L2610,1079.2 L2612,1084.1 L2614,1092.3 L2616,1081.1 L2618,1051.8 L2620,1035.7 L2622,1032.2 L2624,1067.6 L2626,1116.2 L2628,1103.6 L2630,1093.5 L2632,1098.6 L2634,1108.1 L2636,1120.1 L2638,1077.1 L2640,1013.1 L2642,1001.9 L2644,997.6 L2646,997.2 L2648,988.5 L2650,984.4 L2652,991.1 L2654,988.0 L2656,968.2 L2658,934.0 L2660,906.7 L2662,853.5 L2664,850.1 L2666,846.5 L2668,841.0 L2670,829.9 L2672,826.9 L2674,858.9 L2676,893.3 L2678,911.4 L2680,938.6 L2682,980.9 L2684,1005.9 L2686,1061.6 L2688,1115.7 L2690,1079.5 L2692,1044.9 L2694,1048.5 L2696,1003.1 L2698,965.9 L2700,950.8 L2702,927.7 L2704,852.3 L2706,777.7 L2708,782.7 L2710,820.9 L2712,827.9 L2714,848.0 L2716,887.3 L2718,927.4 L2720,961.1 L2722,966.2 L2724,979.3 L2726,978.3 L2728,978.6 L2730,944.4 L2732,912.2 L2734,911.6 L2736,942.7 L2738,934.5 L2740,927.3 L2742,951.4 L2744,955.7 L2746,959.5 L2748,946.3 L2750,929.1 L2752,921.1 L2754,914.0 L2756,839.6 L2758,798.5 L2760,797.6 L2762,806.8 L2764,808.5 L2766,841.8 L2768,887.9 L2770,903.7 L2772,918.8 L2774,929.9 L2776,938.2 L2778,954.2 L2780,967.9 L2782,980.7 L2784,976.1 L2786,985.4 L2788,1003.0 L2790,1024.7 L2792,1042.5 L2794,1032.9 L2796,1045.0 L2798,1054.8 L2800,1059.2 L2802,1031.4 L2804,1012.1 L2806,988.5 L2808,968.4 L2810,974.5 L2812,975.3 L2814,963.2 L2816,963.2 L2818,959.0 L2820,957.9 L2822,949.6 L2824,912.0 L2826,920.7 L2828,929.5 L2830,939.7 L2832,934.7 L2834,932.7 L2836,929.9 L2838,943.8 L2840,944.0 L2842,927.9 L2844,919.8 L2846,935.9 L2848,927.8 L2850,918.7 L2852,901.6 L2854,887.5 L2856,916.2 L2858,919.7 L2860,912.2 L2862,966.2 L2864,961.4 L2866,949.3 L2868,953.3 L2870,918.2 L2872,904.0 L2874,898.0 L2876,869.6 L2878,833.1 L2880,802.6 L2882,777.2 L2884,808.6 L2886,845.0 L2888,862.2 L2890,869.3 L2892,879.4 L2894,892.3 L2896,898.3 L2898,915.2 L2900,954.6 L2902,945.5 L2904,924.1 L2906,891.7 L2908,838.6 L2910,812.5 L2912,791.5 L2914,759.4 L2916,767.7 L2918,783.9 L2920,886.1 L2922,933.2 L2924,949.7 L2926,951.7 L2928,949.7 L2930,973.8 L2932,971.6 L2934,964.2 L2936,957.6 L2938,946.4 L2940,941.4 L2942,953.6 L2944,965.4 L2946,959.4 L2948,947.3 L2950,935.3 L2952,940.1 L2954,931.7 L2956,879.1 L2958,826.0 L2960,817.1 L2962,810.8 L2964,804.7 L2966,794.9 L2968,792.8 L2970,788.7 L2972,772.7 L2974,761.5 L2976,730.6 L2978,723.5 L2980,722.1 L2982,760.4 L2984,797.4 L2986,845.4 L2988,883.4 L2990,913.5 L2992,931.5 L2994,950.4 L2996,991.5 L2998,995.4 L3000,983.9 L3002,993.4 L3004,950.5 L3006,922.6 L3008,859.4 L3010,866.3 L3012,873.3 L3014,867.3 L3016,905.7 L3018,947.3 L3020,978.5 L3022,1036.6 L3024,1021.2 L3026,997.0 L3028,982.4 L3030,953.1 L3032,926.0 L3034,893.8 L3036,810.3 L3038,758.0 L3040,743.7 L3042,784.7 L3044,837.8 M3070,1063.0 L3072,1029.4 L3074,1016.7 L3076,999.3 L3078,1015.4 L3080,1009.9 L3082,1003.3 L3084,998.4 L3086,966.7 L3088,972.7 L3090,970.5 L3092,958.6 L3094,953.7 L3096,966.7 L3098,954.8 L3100,953.6 L3102,946.8 L3104,933.5 L3106,921.4 L3108,777.9 L3110,710.5 L3112,595.1 L3114,608.3 L3116,622.3 L3118,628.1 L3120,634.3 L3122,686.0 L3124,740.0 L3126,744.0 L3128,746.8 L3130,745.8 L3132,722.3 L3134,727.3 L3136,735.3 L3138,741.5 L3140,784.1 L3142,828.1 L3144,865.2 L3146,877.0 L3148,887.1 L3150,920.5 L3152,914.5 L3154,897.8 L3156,886.6 L3158,873.2 L3160,861.2 L3162,849.2 L3164,829.2 L3166,784.0 L3168,734.0 L3170,701.9 L3172,643.8 L3174,567.0 L3176,519.8 L3178,501.7 L3180,472.6 L3182,440.4 L3184,410.3 L3186,399.7 L3188,407.9 L3190,416.0 L3192,467.0 L3194,508.0 L3196,539.0 L3198,554.0 L3200,553.0 L3202,566.0 L3204,578.0 L3206,546.0 L3208,531.5 L3210,530.0 L3212,524.5 L3214,533.0 L3216,569.0 L3218,558.0 L3220,553.0 L3222,534.0 L3224,512.0 L3226,498.0 L3228,483.0 L3230,413.0 L3232,417.9 L3234,424.5 L3236,487.6 L3238,530.0 L3240,570.3 L3242,613.6 L3244,696.3 L3246,736.5 L3248,738.5 L3250,739.5 L3252,729.4 L3254,667.1 L3256,623.1 L3258,601.0 L3260,586.8 L3262,593.4 L3264,619.1 L3266,652.0 L3268,713.3 L3270,757.3 L3272,778.6 L3274,803.7 L3276,810.0 L3278,789.9 L3280,783.4 L3282,790.4 L3284,715.0 L3286,649.0 L3288,580.9 L3290,530.7 L3292,512.4 L3294,519.6 L3296,530.4 L3298,540.7 L3300,577.2 L3302,637.1 L3304,661.1 L3306,683.2 L3308,725.0 L3310,745.3 L3312,748.8 L3314,755.1 L3316,777.0 L3318,754.2 L3320,745.4 L3322,787.6 L3324,783.6 L3326,769.5 L3328,764.6 L3330,761.6 L3332,738.5 L3334,710.4 L3336,680.3 L3338,644.7 L3340,636.0 L3342,666.0 L3344,717.1 L3346,815.4 L3348,837.7 L3350,855.8 L3352,875.9 L3354,893.9 L3356,894.0 L3358,902.0 L3360,874.7 L3362,840.3 L3364,837.2 L3366,840.3 L3368,843.3 L3370,846.4 L3372,890.8 L3374,877.6 L3376,863.6 L3378,851.5 L3380,830.5 L3382,806.4 L3384,770.2 L3386,712.0 L3388,636.7 L3390,608.2 L3392,614.4 L3394,635.0 L3396,661.8 L3398,678.6 L3400,700.8 L3402,719.3 L3404,743.0 L3406,785.2 L3408,811.4 L3410,807.4 L3412,815.6 L3414,810.6 L3416,780.5 L3418,754.4 L3420,718.2 L3422,679.0 L3424,676.9 L3426,670.9 L3428,693.0 L3430,699.1 L3432,726.3 L3434,715.2 L3436,730.3 L3438,729.3 L3440,698.9 L3442,710.1 L3444,723.2 L3446,726.1 L3448,731.1 L3450,724.1 L3452,724.0 L3454,726.0 L3456,713.6 L3458,713.2 L3460,697.9 L3462,694.1 L3464,715.2 L3466,732.3 L3468,765.4 L3470,773.5 L3472,755.4 L3474,732.2 L3476,718.0 L3478,710.0 L3480,693.8 L3482,666.5 L3484,644.8 L3486,648.9 L3488,696.4 L3490,673.2 L3492,659.0 L3494,657.0 L3496,655.0 L3498,655.5 L3500,587.1 L3502,571.5 L3504,564.0 L3506,583.0 L3508,603.0 L3510,643.2 L3512,647.2 L3514,671.0 L3516,694.3 L3518,692.6 L3520,709.7 L3522,712.6 L3524,732.6 L3526,747.1 L3528,759.9 L3530,768.5 L3532,775.8 L3534,769.0 L3536,751.2 L3538,737.3 L3540,717.4 L3542,705.7 L3544,695.6 L3546,683.4 L3548,667.2 L3550,649.3 L3552,623.0 L3554,619.0 L3556,660.0 L3558,706.3 L3560,741.5 L3562,743.3 L3564,743.5 L3566,731.4 L3568,719.4 L3570,657.0 L3572,644.0 L3574,652.0 L3576,661.0 L3578,662.0 L3580,672.0 L3582,718.0 L3584,772.0 L3586,815.0 L3588,823.0 L3590,801.9 L3592,808.7 L3594,824.8 L3596,833.2 L3598,823.0 L3600,834.4 L3602,851.4 L3604,872.5" fill="none" stroke="#4e79a7" stroke-width="8" stroke-linejoin="round" stroke-linecap="round"/>
<circle cx="1266.2" cy="1883.7" r="9" fill="#4e79a7"/>
<text x="1205.7" y="1926.7" font-size="32" text-anchor="start" fill="#5b6166" font-weight="normal" textLength="116.9" lengthAdjust="spacingAndGlyphs">6/4/20</text>
<text x="1215.8" y="1964.2" font-size="32" text-anchor="start" fill="#5b6166" font-weight="normal" textLength="97.5" lengthAdjust="spacingAndGlyphs">3.17M</text>
<circle cx="1812" cy="2507" r="9" fill="#4e79a7"/>
<text x="1747" y="2551" font-size="32" text-anchor="start" fill="#5b6166" font-weight="normal" textLength="125" lengthAdjust="spacingAndGlyphs">3/31/21</text>
<text x="1759" y="2588.5" font-size="32" text-anchor="start" fill="#5b6166" font-weight="normal" textLength="101" lengthAdjust="spacingAndGlyphs">2.07M</text>
<circle cx="2556.2" cy="1634.5" r="9" fill="#4e79a7"/>
<text x="2490.6" y="1677" font-size="32" text-anchor="start" fill="#5b6166" font-weight="normal" textLength="127.0" lengthAdjust="spacingAndGlyphs">5/15/22</text>
<text x="2505" y="1714.6" font-size="32" text-anchor="start" fill="#5b6166" font-weight="normal" textLength="99" lengthAdjust="spacingAndGlyphs">3.61M</text>
<circle cx="3056" cy="1458.4" r="9" fill="#4e79a7"/>
<text x="2992" y="1501" font-size="32" text-anchor="start" fill="#5b6166" font-weight="normal" textLength="127" lengthAdjust="spacingAndGlyphs">2/14/23</text>
<text x="3004" y="1539" font-size="32" text-anchor="start" fill="#5b6166" font-weight="normal" textLength="101" lengthAdjust="spacingAndGlyphs">3.92M</text>
<circle cx="3235.4" cy="332" r="9" fill="#4e79a7"/>
<text x="3168" y="265.5" font-size="32" text-anchor="start" fill="#5b6166" font-weight="normal" textLength="133" lengthAdjust="spacingAndGlyphs">5/24/23</text>
<text x="3185" y="303" font-size="32" text-anchor="start" fill="#5b6166" font-weight="normal" textLength="97.5" lengthAdjust="spacingAndGlyphs">5.91M</text>
<circle cx="3575.6" cy="546.3" r="9" fill="#4e79a7"/>
<text x="3535.3" y="472.5" font-size="32" text-anchor="start" fill="#5b6166" font-weight="normal" textLength="140.9" lengthAdjust="spacingAndGlyphs">11/27/23</text>
<text x="3553.4" y="510.9" font-size="32" text-anchor="start" fill="#5b6166" font-weight="normal" textLength="100.0" lengthAdjust="spacingAndGlyphs">5.53M</text>
<text x="3598.6" y="2375" font-size="32" text-anchor="start" fill="#5b6166" font-weight="normal" textLength="124.9" lengthAdjust="spacingAndGlyphs">1/14/24</text>
<text x="3610" y="2413.7" font-size="32" text-anchor="start" fill="#5b6166" font-weight="normal" textLength="103" lengthAdjust="spacingAndGlyphs">2.38M</text>
<text x="881" y="100" font-size="70" text-anchor="start" fill="#262626" font-weight="bold" textLength="2090" lengthAdjust="spacingAndGlyphs">Metric Tons of Trade Volume Transiting The Bab el-Mandeb</text>
<text x="1725" y="171" font-size="53" text-anchor="start" fill="#333" font-weight="normal" textLength="399" lengthAdjust="spacingAndGlyphs">7-Day Average</text>
<text x="33" y="2791" font-size="41" text-anchor="start" fill="#4a4a4a" font-weight="normal" textLength="504" lengthAdjust="spacingAndGlyphs">Data Source: IMF Port Watch</text>
<text x="33" y="2832.5" font-size="41" text-anchor="start" fill="#56899a" font-weight="normal" textLength="803" lengthAdjust="spacingAndGlyphs">https://portwatch.imf.org/pages/port-monitor</text>
<rect x="33" y="2837" width="803" height="1.6" fill="#6a9aa6"/>
<text x="2925.5" y="2790" font-size="41" text-anchor="start" fill="#4a4a4a" font-weight="normal" textLength="894.5" lengthAdjust="spacingAndGlyphs">© 2024 Bianco Research, L.L.C. All Rights Reserved</text>
<text x="3227" y="2831.6" font-size="41" text-anchor="start" fill="#56899a" font-weight="normal" textLength="591" lengthAdjust="spacingAndGlyphs">https://www.biancoresearch.com/</text>
<rect x="3227" y="2836.5" width="591" height="1.6" fill="#6a9aa6"/></svg>
</body></html>
